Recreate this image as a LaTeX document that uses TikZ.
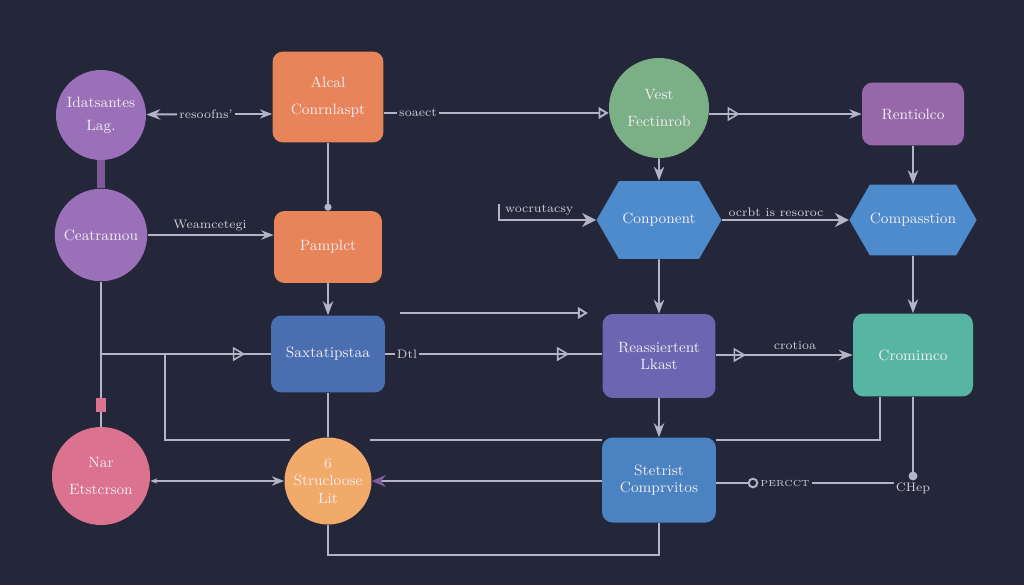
\documentclass[tikz,border=0pt]{standalone}
\usepackage{tikz}
\usetikzlibrary{arrows.meta,shapes.symbols,decorations.markings}
\definecolor{bg}{HTML}{24263A}
\definecolor{wire}{HTML}{B4B4C6}
\definecolor{ink}{HTML}{F2ECF2}
\definecolor{lav}{HTML}{9A70B8}
\definecolor{lavd}{HTML}{7E5A98}
\definecolor{org}{HTML}{E8845A}
\definecolor{sage}{HTML}{7BAF86}
\definecolor{plum}{HTML}{9768A9}
\definecolor{sky}{HTML}{4E8BCC}
\definecolor{navy}{HTML}{4A6FB0}
\definecolor{indi}{HTML}{6B66B2}
\definecolor{teal}{HTML}{57B6A3}
\definecolor{rose}{HTML}{DA7290}
\definecolor{peach}{HTML}{F2AA6A}
\definecolor{steel}{HTML}{4B82C2}

\begin{document}
\begin{tikzpicture}[x=0.02cm,y=-0.02cm,
	lne/.style={draw=wire,line width=1.1pt},
	txt/.style={text=ink,font=\fontsize{8.5}{10}\selectfont,align=center},
	lbl/.style={text=ink!85!bg,font=\scriptsize,inner sep=1pt},
	blk/.style={txt,rounded corners=6pt,inner sep=0pt},
	rnd/.style={txt,circle,inner sep=0pt},
	hex/.style={txt,signal,signal to=east and west,signal pointer angle=120,inner sep=0pt},
	midtri/.style={postaction={decorate},decoration={markings,mark=at position #1 with {\arrow[wire,line width=0.9pt]{Triangle[open,length=7pt,width=8pt]}}}}]
		\fill[bg] (0,0) rectangle (1024,585);
		\useasboundingbox (0,0) rectangle (1024,585);
		
		\node[rnd,fill=lav,minimum size=1.8cm] (idl) at (101,115) {Idatsantes\\[3pt]Lag.};
		\node[blk,fill=org,minimum width=2.22cm,minimum height=1.82cm] (acn) at (328,97) {Alcal\\[5pt]Conrnlaspt};
		\node[rnd,fill=sage,minimum size=2cm] (vst) at (659,108) {Vest\\[5pt]Fectinrob};
		\node[blk,fill=plum,minimum width=2.04cm,minimum height=1.26cm] (rnt) at (913,114) {Rentiolco};
		\node[rnd,fill=lav,minimum size=1.85cm] (cea) at (101,235) {Ceatramou};
		\node[blk,fill=org,minimum width=2.16cm,minimum height=1.44cm] (pmp) at (328,247) {Pamplct};
		\node[hex,fill=sky,minimum width=2.5cm,minimum height=1.56cm] (cnp) at (659,220) {Conponent};
		\node[hex,fill=sky,minimum width=2.4cm,minimum height=1.42cm] (cps) at (913,220) {Compasstion};
		\node[blk,fill=navy,minimum width=2.28cm,minimum height=1.54cm] (sxt) at (328,354) {Saxtatipstaa};
		\node[blk,fill=indi,minimum width=2.26cm,minimum height=1.68cm] (rsl) at (659,356) {Reassiertent\\Lkast};
		\node[blk,fill=teal,minimum width=2.4cm,minimum height=1.66cm] (crm) at (913,355) {Cromimco};
		\node[rnd,fill=rose,minimum size=1.96cm] (nar) at (101,476) {Nar\\[5pt]Etstcrson};
		\node[rnd,fill=peach,minimum size=1.74cm] (str) at (328,481) {6\\Strucloose\\Lit};
		\node[blk,fill=steel,minimum width=2.28cm,minimum height=1.7cm] (stt) at (659,480) {Stetrist\\Comprvitos};
		
		\node[lbl] (l1) at (206,114) {resoofns'};
		\node[lbl] (l2) at (418,113) {soaect};
		\node[lbl] (l3) at (210,226) {Weamcetegi};
		\node[lbl,anchor=west] (l4) at (503,210) {wocrutacsy};
		\node[lbl] (l5) at (776,212) {ocrbt is resoroc};
		\node[lbl] (l6) at (407,354) {Dtl};
		\node[lbl] (l7) at (795,345) {crotioa};
		\node[lbl] (l8) at (913,488) {CHep};
		\node[lbl,font=\tiny] (l9) at (785,483) {PERCCT};
		
		\coordinate (c1) at (499,204);
		\coordinate (c2) at (400,313);
		\coordinate (c3) at (588,313);
		\coordinate (c4) at (101,354);
		\coordinate (c5) at (165,354);
		\coordinate (c6) at (290,440);
		\coordinate (c7) at (370,440);
		\coordinate (c8) at (880,440);
		
		\draw[lne,Stealth-] (idl) to (l1);
		\draw[lne,-{Stealth[length=7pt]}] (l1) to (l1 -| acn.west);
		\draw[lne] (acn.east |- l2) to (l2);
		\draw[lne,-{Triangle[open]}] (l2) to (l2 -| vst.west);
		\draw[lne,midtri=0.2,-{Stealth[length=7pt]}] (vst.east |- rnt) to (rnt);
		\draw[lne,-{Circle[length=4pt]}] (acn) to (pmp);
		\draw[draw=lavd,line width=5pt] (idl) to (cea);
		\draw[lne,-{Stealth[length=7pt]}] (cea) to (cea -| pmp.west);
		\draw[lne,-Stealth] (vst) to (cnp);
		\draw[lne,-Stealth] (rnt) to (cps);
		\draw[lne,-{Stealth[length=8pt,width=8pt]}] (c1) |- (cnp);
		\draw[lne,-{Stealth[length=8pt,width=8pt]}] (cnp) to (cps);
		\draw[lne,-Stealth] (pmp) to (sxt);
		\draw[lne,-Stealth] (cnp) to (rsl);
		\draw[lne,-Stealth] (cps) to (crm);
		\draw[lne,-{Triangle[open]}] (c2) to (c3);
		\draw[lne,postaction={decorate},decoration={markings,mark=at position 0.85 with {\fill[rose] (-4pt,-3pt) rectangle (4pt,3pt);}}] (cea) to (nar);
		\draw[lne,midtri=0.85] (c4) to (sxt);
		\draw[lne] (c5) |- (c6);
		\draw[lne] (c7) to (c7 -| stt.west);
		\draw[lne] (sxt) to (l6);
		\draw[lne,midtri=0.82] (l6) to (l6 -| rsl.west);
		\draw[lne,midtri=0.22,-{Stealth[length=8pt]}] (rsl.east |- crm) to (crm);
		\draw[lne,-Stealth] (rsl) to (stt);
		\draw[lne] (stt.east |- c8) to (c8) to (c8 |- crm.south);
		\draw[lne,-{Circle[length=5pt]}] (crm) to (l8);
		\draw[lne,-{Circle[open,length=6pt]}] (stt.east |- l9) to (l9);
		\draw[lne] (l9) to (l9 -| l8.west);
		\draw[lne,{Stealth[color=lavd,length=8pt,width=7pt]}-] (str) to (str -| stt.west);
		\draw[lne,{Stealth[length=4pt]}-{Stealth[length=7pt]}] (nar.east |- str) to (str);
		\draw[lne] (stt) -- ++(0,75) -| (str);
		\draw[lne] (sxt) to (str);
	\end{tikzpicture}
\end{document}
